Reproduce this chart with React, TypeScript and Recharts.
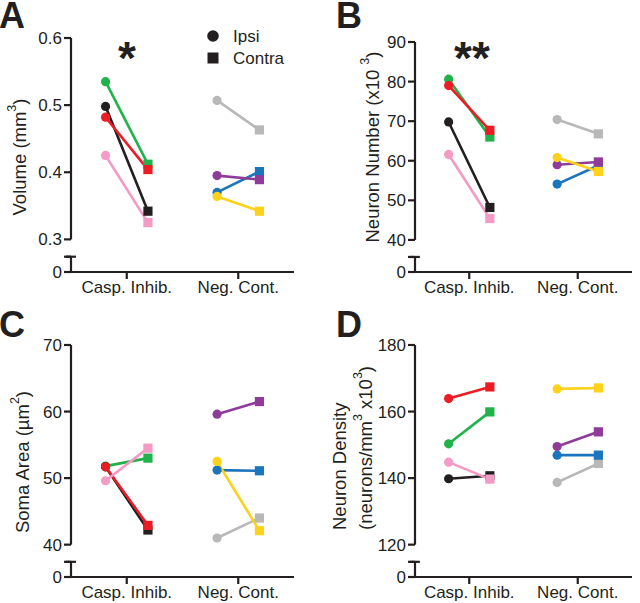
import { LineChart, Line, XAxis, YAxis, ReferenceLine } from "recharts";

const GROUPS = ["Casp. Inhib.", "Neg. Cont."];
// one entry per animal: 4 caspase-inhibitor animals, then 4 negative controls
const ANIMAL_COLORS = ["#21b24b", "#231f20", "#ec1c24", "#f39bc4", "#b8b8b8", "#1b75bc", "#8e3b9a", "#fcd21a"];
const ANIMAL_GROUP = [0, 0, 0, 0, 1, 1, 1, 1];

// A - volume (mm3)
const volumeTicks = [0.3, 0.4, 0.5, 0.6];
const volumeIpsi = [0.535, 0.498, 0.482, 0.425, 0.507, 0.37, 0.395, 0.364];
const volumeContra = [0.412, 0.342, 0.404, 0.325, 0.463, 0.401, 0.389, 0.342];

// B - neuron number (x10^3)
const numberTicks = [40, 50, 60, 70, 80, 90];
const numberIpsi = [80.6, 69.8, 79.0, 61.6, 70.4, 54.1, 59.0, 60.8];
const numberContra = [66.0, 48.2, 67.7, 45.4, 66.8, 58.8, 59.7, 57.3];

// C - soma area (um2)
const somaTicks = [40, 50, 60, 70];
const somaIpsi = [51.8, 51.7, 51.7, 49.6, 41.0, 51.2, 59.6, 52.5];
const somaContra = [53.0, 42.2, 42.9, 54.5, 44.0, 51.1, 61.5, 42.1];

// D - neuron density
const densityTicks = [120, 140, 160, 180];
const densityIpsi = [150.3, 139.8, 163.9, 144.8, 138.7, 146.9, 149.5, 166.8];
const densityContra = [159.9, 140.7, 167.4, 139.7, 144.4, 146.9, 153.9, 167.1];

const INK = "#231f20";
const FONT = "'Liberation Sans', Arial, sans-serif";
const OFFSET = 0.19; // ipsi / contra shift around the group centre

const pairDot = (color: string) => (props: any) => {
  const { cx, cy, index } = props;
  if (cx == null || cy == null) return <g key={`d-${index}`} />;
  if (index === 0) return <circle key={`d-${index}`} cx={cx} cy={cy} r={4.6} fill={color} />;
  return <rect key={`d-${index}`} x={cx - 4.6} y={cy - 4.6} width={9.2} height={9.2} fill={color} />;
};

function Panel({ ticks, ipsi, contra, digits, left, top, height, margin, yWidth }: any) {
  const lo = ticks[0];
  const hi = ticks[ticks.length - 1];
  const span = hi - lo;
  const zero = lo - span * 0.162;
  const brk = lo - span * 0.086;
  const cap = 0.045;

  const series = ipsi.map((v: number, i: number) => {
    const g = ANIMAL_GROUP[i] + 1;
    return [
      { x: g - OFFSET, y: v },
      { x: g + OFFSET, y: contra[i] },
    ];
  });

  const axisStroke = { stroke: INK, strokeWidth: 2.2 };

  return (
    <div style={{ position: "absolute", left, top }}>
      <LineChart width={320} height={height} margin={margin}>
        <XAxis
          type="number"
          dataKey="x"
          domain={[0.5, 2.5]}
          allowDataOverflow
          ticks={[1, 2]}
          tickFormatter={(v: number) => GROUPS[Math.round(v) - 1]}
          axisLine={axisStroke}
          tickLine={axisStroke}
          tickSize={7}
          height={26}
          tick={{ fill: INK, fontSize: 17, fontFamily: FONT }}
        />
        <YAxis
          type="number"
          dataKey="y"
          domain={[zero, hi]}
          allowDataOverflow
          ticks={[zero, brk, ...ticks]}
          interval={0}
          tickFormatter={(v: number, i: number) => (i === 0 ? "0" : i === 1 ? "" : v.toFixed(digits))}
          axisLine={false}
          tickLine={axisStroke}
          tickSize={7}
          width={yWidth}
          tick={{ fill: INK, fontSize: 17, fontFamily: FONT }}
        />
        <ReferenceLine segment={[{ x: 0.5, y: lo }, { x: 0.5, y: hi }]} {...axisStroke} ifOverflow="visible" />
        <ReferenceLine segment={[{ x: 0.5, y: zero }, { x: 0.5, y: brk }]} {...axisStroke} ifOverflow="visible" />
        <ReferenceLine segment={[{ x: 0.5 - cap, y: brk }, { x: 0.5 + cap, y: brk }]} {...axisStroke} ifOverflow="visible" />
        {series.map((d: any, i: number) => (
          <Line
            key={i}
            data={d}
            dataKey="y"
            stroke={ANIMAL_COLORS[i]}
            strokeWidth={2.6}
            dot={pairDot(ANIMAL_COLORS[i])}
            activeDot={false}
            isAnimationActive={false}
          />
        ))}
      </LineChart>
    </div>
  );
}

const Sup = ({ children }: any) => (
  <tspan baselineShift="super" fontSize={12.5}>
    {children}
  </tspan>
);

export default function App() {
  const labelStyle = { fill: INK, fontSize: 17, fontFamily: FONT };
  const titleStyle = { fill: INK, fontSize: 18.5, fontFamily: FONT };
  return (
    <div style={{ position: "absolute", left: 0, top: 0, width: 640, height: 603, background: "#fff", fontFamily: FONT }}>
      <Panel ticks={volumeTicks} ipsi={volumeIpsi} contra={volumeContra} digits={1} left={0} top={0} height={300}
        margin={{ top: 38, right: 26, bottom: 2, left: 11 }} yWidth={60} />
      <Panel ticks={numberTicks} ipsi={numberIpsi} contra={numberContra} digits={0} left={320} top={0} height={300}
        margin={{ top: 42, right: 8, bottom: 2, left: 35 }} yWidth={60} />
      <Panel ticks={somaTicks} ipsi={somaIpsi} contra={somaContra} digits={0} left={0} top={300} height={303}
        margin={{ top: 45, right: 26, bottom: 0, left: 11 }} yWidth={60} />
      <Panel ticks={densityTicks} ipsi={densityIpsi} contra={densityContra} digits={0} left={320} top={300} height={303}
        margin={{ top: 45, right: 8, bottom: 0, left: 35 }} yWidth={60} />

      <svg width={640} height={603} style={{ position: "absolute", left: 0, top: 0, pointerEvents: "none" }}>
        {/* panel letters */}
        <g fill={INK} fontFamily={FONT} fontWeight="bold" fontSize={36}>
          <text x={-1} y={28}>A</text>
          <text x={336} y={28}>B</text>
          <text x={-1} y={337}>C</text>
          <text x={336} y={337}>D</text>
        </g>

        {/* significance */}
        <g fill={INK} fontFamily={FONT} fontWeight="bold" fontSize={46} textAnchor="middle">
          <text x={127} y={74}>*</text>
          <text x={472} y={74}>**</text>
        </g>

        {/* legend */}
        <circle cx={213} cy={36} r={5.8} fill={INK} />
        <text x={233} y={42} {...labelStyle}>Ipsi</text>
        <rect x={207.5} y={52.5} width={11} height={11} fill={INK} />
        <text x={233} y={64} {...labelStyle}>Contra</text>

        {/* y-axis titles */}
        <text x={19} y={157} transform="rotate(-90 19 157)" textAnchor="middle" dominantBaseline="central" {...titleStyle}>
          Volume (mm<Sup>3</Sup>)
        </text>
        <text x={372} y={147} transform="rotate(-90 372 147)" textAnchor="middle" dominantBaseline="central" {...titleStyle}>
          Neuron Number (x10 <Sup>3</Sup>)
        </text>
        <text x={22} y={462} transform="rotate(-90 22 462)" textAnchor="middle" dominantBaseline="central" {...titleStyle}>
          Soma Area (µm<Sup>2</Sup>)
        </text>
        <text x={339} y={530} transform="rotate(-90 339 530)" textAnchor="start" dominantBaseline="central" {...titleStyle}>
          Neuron  Density
        </text>
        <text x={365} y={530} transform="rotate(-90 365 530)" textAnchor="start" dominantBaseline="central" {...titleStyle}>
          (neurons/mm<Sup>3</Sup> x10<Sup>3</Sup>)
        </text>
      </svg>
    </div>
  );
}
